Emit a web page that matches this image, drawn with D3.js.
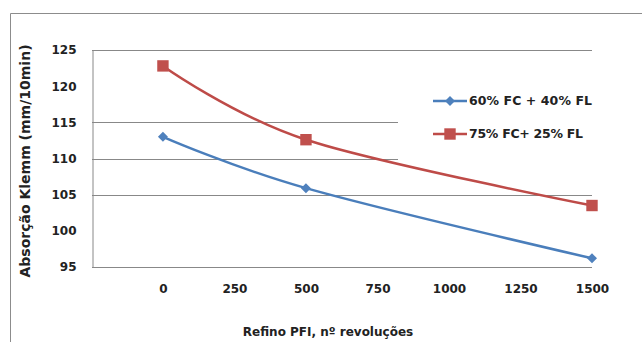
<!DOCTYPE html>
<html>
<head>
<meta charset="utf-8">
<script src="https://cdn.jsdelivr.net/npm/d3@7"></script>
<style>
  body { margin: 0; background: #fff; }
  text { font-family: "DejaVu Sans", sans-serif; fill: #222; }
</style>
</head>
<body>
<svg id="drawing_region"></svg>
<script>
// data
const revolutions = [0, 500, 1500];
const series_blue = [113.0, 105.9, 96.2];
const series_red = [122.8, 112.6, 103.5];
const series_names = ["60% FC + 40% FL", "75% FC+ 25% FL"];
const x_ticks = [0, 250, 500, 750, 1000, 1250, 1500];
const y_ticks = [95, 100, 105, 110, 115, 120, 125];
const y_grid = [105, 110, 115, 125];

const config = {
    width: 642,
    height: 342,
    margin: {top: 50, right: 50, bottom: 75, left: 92}
};

const svg = d3.select('#drawing_region')
    .attr('width', config.width)
    .attr('height', config.height);

// outer frame (partly cut off in the original)
svg.append('path')
    .attr('d', 'M10.5,342 L10.5,13.5 L642,13.5')
    .attr('fill', 'none')
    .attr('stroke', '#8c8c8c')
    .attr('stroke-width', 1);

const inner_width = config.width - config.margin.left - config.margin.right;
const inner_height = config.height - config.margin.top - config.margin.bottom;

const chart = svg.append('g')
    .attr('transform', `translate(${config.margin.left}, ${config.margin.top})`);

const xscale = d3.scaleLinear()
    .domain([-248, 1500])
    .range([0, inner_width]);

const yscale = d3.scaleLinear()
    .domain([95, 125])
    .range([inner_height, 0]);

// gridlines
chart.selectAll('.grid')
    .data(y_grid)
    .join('line')
    .attr('class', 'grid')
    .attr('x1', 0)
    .attr('x2', inner_width)
    .attr('y1', d => Math.round(yscale(d)) + 0.5)
    .attr('y2', d => Math.round(yscale(d)) + 0.5)
    .attr('stroke', '#888')
    .attr('stroke-width', 1);

// axes
const xaxis = d3.axisBottom(xscale)
    .tickValues(x_ticks)
    .tickSize(0)
    .tickPadding(17)
    .tickFormat(d3.format('d'));

const yaxis = d3.axisLeft(yscale)
    .tickValues(y_ticks)
    .tickSize(0)
    .tickPadding(16);

const xaxis_group = chart.append('g')
    .attr('transform', `translate(0, ${Math.round(inner_height) + 0.5})`)
    .call(xaxis);

const yaxis_group = chart.append('g')
    .attr('transform', 'translate(0.5, 0)')
    .call(yaxis);

[xaxis_group, yaxis_group].forEach(g => {
    g.select('.domain').attr('stroke', '#888');
    g.selectAll('text')
        .attr('font-size', '12px')
        .attr('font-weight', 700)
        .attr('fill', '#222')
        .style('font-family', '"DejaVu Sans", sans-serif');
});
xaxis_group.select('.domain').remove();
chart.append('line')
    .attr('x1', 0).attr('x2', inner_width)
    .attr('y1', Math.round(inner_height) + 0.5)
    .attr('y2', Math.round(inner_height) + 0.5)
    .attr('stroke', '#888');

// smoothed lines, like the spreadsheet's "smooth line" option
const line = d3.line()
    .x(d => xscale(d.x))
    .y(d => yscale(d.y))
    .curve(d3.curveCatmullRom.alpha(0));

const blue = revolutions.map((x, i) => ({x: x, y: series_blue[i]}));
const red = revolutions.map((x, i) => ({x: x, y: series_red[i]}));

chart.append('path')
    .datum(blue)
    .attr('d', line)
    .attr('fill', 'none')
    .attr('stroke', '#4a7ebb')
    .attr('stroke-width', 2.5);

chart.append('path')
    .datum(red)
    .attr('d', line)
    .attr('fill', 'none')
    .attr('stroke', '#be4b48')
    .attr('stroke-width', 2.5);

const diamond = d3.symbol().type(d3.symbolDiamond2).size(64);
const square = d3.symbol().type(d3.symbolSquare).size(130);

chart.selectAll('.mk_blue')
    .data(blue)
    .join('path')
    .attr('class', 'mk_blue')
    .attr('transform', d => `translate(${xscale(d.x)}, ${yscale(d.y)})`)
    .attr('d', diamond)
    .attr('fill', '#4f81bd');

chart.selectAll('.mk_red')
    .data(red)
    .join('path')
    .attr('class', 'mk_red')
    .attr('transform', d => `translate(${xscale(d.x)}, ${yscale(d.y)})`)
    .attr('d', square)
    .attr('fill', '#c0504d');

// legend (white box hides the gridlines behind it)
svg.append('rect')
    .attr('x', 398)
    .attr('y', 78)
    .attr('width', 196)
    .attr('height', 84)
    .attr('fill', '#fff');

const legend = svg.append('g');
const legend_y = [101, 134];
const legend_colors = [['#4a7ebb', '#4f81bd'], ['#be4b48', '#c0504d']];
const legend_marks = [diamond, square];

series_names.forEach((name, i) => {
    legend.append('line')
        .attr('x1', 433).attr('x2', 467)
        .attr('y1', legend_y[i]).attr('y2', legend_y[i])
        .attr('stroke', legend_colors[i][0])
        .attr('stroke-width', 2.5);
    legend.append('path')
        .attr('transform', `translate(450, ${legend_y[i]})`)
        .attr('d', legend_marks[i])
        .attr('fill', legend_colors[i][1]);
    legend.append('text')
        .attr('x', 469)
        .attr('y', legend_y[i])
        .attr('dy', '0.35em')
        .attr('font-size', '12.5px')
        .attr('font-weight', 700)
        .attr('textLength', i === 0 ? 123 : 114)
        .text(name);
});

// axis titles
svg.append('text')
    .attr('x', 328)
    .attr('y', 332)
    .attr('dy', '0.35em')
    .attr('text-anchor', 'middle')
    .attr('font-size', '12px')
    .attr('font-weight', 700)
    .text('Refino PFI, nº revoluções');

svg.append('text')
    .attr('transform', 'translate(25, 161) rotate(-90)')
    .attr('dy', '0.35em')
    .attr('text-anchor', 'middle')
    .attr('font-size', '14px')
    .attr('font-weight', 700)
    .text('Absorção Klemm (mm/10min)');
</script>
</body>
</html>
